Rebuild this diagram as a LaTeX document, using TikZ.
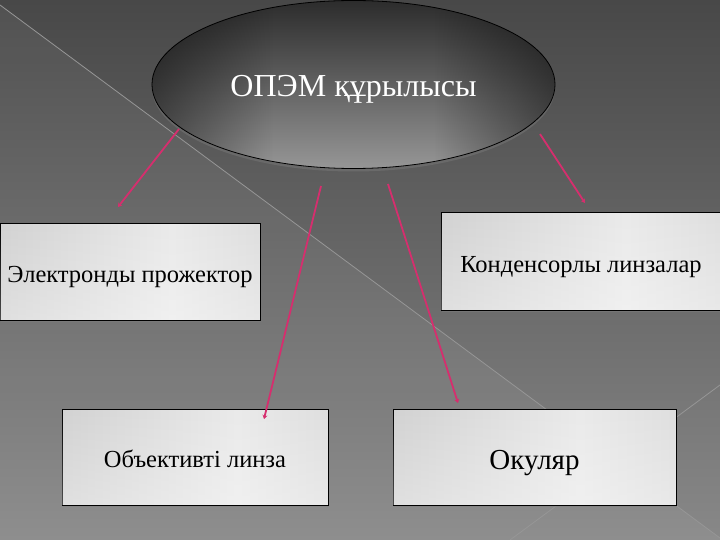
\documentclass[tikz,border=0pt]{standalone}
\usepackage{fontspec}
\setmainfont{Liberation Serif}
\usetikzlibrary{shapes.geometric,arrows.meta,shadows,fadings}
\definecolor{bgtop}{RGB}{72,72,72}
\definecolor{bgbot}{RGB}{136,136,136}
\definecolor{arrowpink}{RGB}{214,46,110}
\definecolor{bx0}{RGB}{208,208,208}
\definecolor{bx1}{RGB}{194,194,194}
\definecolor{bxm}{RGB}{234,234,234}
\definecolor{bx2}{RGB}{214,214,214}
\definecolor{bx3}{RGB}{156,156,156}
\definecolor{bgline}{RGB}{150,150,150}
\definecolor{elt}{RGB}{44,44,44}
\definecolor{elb}{RGB}{150,150,150}
\pgfdeclarehorizontalshading{boxsh}{100bp}{color(0bp)=(bx0); color(3bp)=(bx1); color(58bp)=(bxm); color(88bp)=(bx2); color(100bp)=(bx3)}
\pgfdeclarehorizontalshading{sideshade}{100bp}{color(0bp)=(white); color(8bp)=(white); color(24bp)=(black!50); color(40bp)=(black); color(60bp)=(black); color(76bp)=(black!50); color(92bp)=(white); color(100bp)=(white)}
\pgfdeclarefading{sidedark}{\pgfuseshading{sideshade}}
\begin{document}
\begin{tikzpicture}[x=1pt,y=-1pt,
  box/.style={draw=black, line width=1pt, rectangle, inner sep=0pt,
    shading=boxsh, text=black,
    font=\fontsize{24.5}{28}\selectfont, text height=21pt, text depth=0pt,
    postaction={fill=white, path fading=north, fill opacity=0.3},
    drop shadow={shadow xshift=1pt,shadow yshift=-2pt,opacity=0.45}},
  conn/.style={draw=arrowpink, line width=1.8pt, -{Stealth[length=4pt,width=5pt]}},
  bgl/.style={draw=bgline, line width=0.8pt}]
\useasboundingbox (0,0) rectangle (720,540);
% background
\shade[top color=bgtop, bottom color=bgbot] (0,0) rectangle (720,540);
\fill[white, opacity=0.05] (0,5) -- (720,538) -- (720,540) -- (0,540) -- cycle;
\draw[bgl] (0,5) -- (720,538);
\draw[bgl] (510,540) -- (720,385);
% title ellipse
\node[ellipse, draw=black, line width=0.8pt, minimum width=403pt, minimum height=168pt,
  inner sep=0pt, top color=elt, bottom color=elb,
  postaction={fill=black, path fading=sidedark},
  text=white, font=\fontsize{32}{36}\selectfont, text height=24.6pt, text depth=0pt,
  drop shadow={shadow xshift=0pt,shadow yshift=-3pt,opacity=0.4}]
  (ell) at (353.5,84.5) {ОПЭМ құрылысы};
% boxes
\node[box, minimum width=260pt, minimum height=96pt] (elec) at (130,272) {Электронды прожектор};
\node[box, minimum width=280pt, minimum height=97pt] (kond) at (581,261.5) {Конденсорлы линзалар};
\node[box, minimum width=266pt, minimum height=96pt] (obj) at (195,457) {Объективті линза};
\node[box, minimum width=283pt, minimum height=96pt, font=\fontsize{29}{32}\selectfont, text height=24pt] (okul) at (534.5,457) {Окуляр};
% connector ends
\coordinate (s1) at (179,129); \coordinate (e1) at (118,207);
\coordinate (s2) at (321,186); \coordinate (e2) at (264,419);
\coordinate (s3) at (388,184); \coordinate (e3) at (458,403);
\coordinate (s4) at (540,134); \coordinate (e4) at (585,203);
\draw[conn] (s1) -- (e1);
\draw[conn] (s2) -- (e2);
\draw[conn] (s3) -- (e3);
\draw[conn] (s4) -- (e4);
\end{tikzpicture}
\end{document}
